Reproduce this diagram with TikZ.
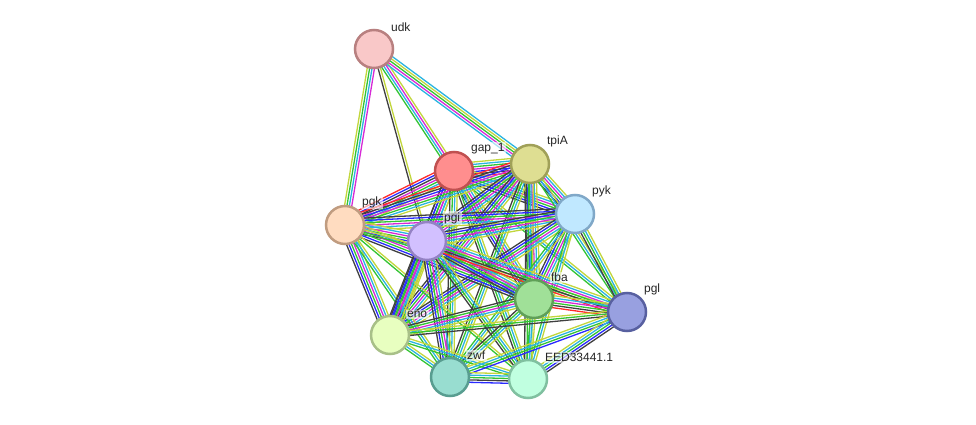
\documentclass[tikz,border=0pt]{standalone}
\usepackage{fontspec}
\setmainfont{Liberation Sans}
\usetikzlibrary{calc,backgrounds}

% edge colours
\definecolor{cgreen}{HTML}{33C433}
\definecolor{cred}{HTML}{FF2A2A}
\definecolor{cblue}{HTML}{2A2AFF}
\definecolor{cblack}{HTML}{404040}
\definecolor{cmag}{HTML}{D62AD6}
\definecolor{ccyan}{HTML}{2AB4E0}
\definecolor{cyel}{HTML}{C2D63C}

% one edge = several parallel coloured lines
\newcommand{\linkedge}[3]{%
  \foreach \c [count=\i] in {#3}{\xdef\ncol{\i}}%
  \foreach \c [count=\i] in {#3}{%
    \pgfmathsetmacro\off{(\i-1)*2.4-(\ncol-1)*1.2}%
    \draw[ev\c] ($(#1)!\off pt!90:(#2)$) -- ($(#2)!\off pt!-90:(#1)$);
  }%
}

\begin{document}
\begin{tikzpicture}[
    x=1pt, y=-1pt,
    % protein nodes
    prot/.style={circle, minimum size=38pt, inner sep=0pt, line width=2.5pt},
    lab/.style={font=\fontsize{12}{14}\selectfont, inner sep=1.5pt, text=black!85,
      fill=white, fill opacity=0.6, text opacity=1, label distance=1.5pt},
    % evidence channels
    evn/.style={draw=cgreen, line width=1.3pt},
    evf/.style={draw=cred, line width=1.3pt},
    evo/.style={draw=cblue, line width=1.3pt},
    evx/.style={draw=cblack, line width=1.3pt},
    eve/.style={draw=cmag, line width=1.3pt},
    evd/.style={draw=ccyan, line width=1.3pt},
    evt/.style={draw=cyel, line width=1.3pt},
  ]
  \useasboundingbox (0,0) rectangle (976,425);

  % proteins
  \node[prot, fill={rgb,255:red,249;green,200;blue,200}, draw={rgb,255:red,184;green,128;blue,128},
    label={[lab]45:udk}] (udk) at (374,49) {};
  \node[prot, fill={rgb,255:red,255;green,142;blue,142}, draw={rgb,255:red,192;green,80;blue,80},
    label={[lab]45:gap\_1}] (gap) at (454,171) {};
  \node[prot, fill={rgb,255:red,222;green,222;blue,146}, draw={rgb,255:red,160;green,160;blue,88},
    label={[lab]45:tpiA}] (tpiA) at (530,164) {};
  \node[prot, fill={rgb,255:red,192;green,232;blue,255}, draw={rgb,255:red,128;green,168;blue,200},
    label={[lab]45:pyk}] (pyk) at (575,214) {};
  \node[prot, fill={rgb,255:red,255;green,220;blue,192}, draw={rgb,255:red,192;green,156;blue,128},
    label={[lab]45:pgk}] (pgk) at (345,225) {};
  \node[prot, fill={rgb,255:red,210;green,192;blue,255}, draw={rgb,255:red,148;green,130;blue,196},
    label={[lab]45:pgi}] (pgi) at (427,241) {};
  \node[prot, fill={rgb,255:red,160;green,224;blue,152}, draw={rgb,255:red,96;green,160;blue,88},
    label={[lab]45:fba}] (fba) at (534,299) {};
  \node[prot, fill={rgb,255:red,152;green,160;blue,224}, draw={rgb,255:red,88;green,96;blue,160},
    label={[lab]45:pgl}] (pgl) at (627,312) {};
  \node[prot, fill={rgb,255:red,232;green,255;blue,192}, draw={rgb,255:red,168;green,192;blue,136},
    label={[lab]45:eno}] (eno) at (390,335) {};
  \node[prot, fill={rgb,255:red,152;green,221;blue,208}, draw={rgb,255:red,88;green,157;blue,144},
    label={[lab]45:zwf}] (zwf) at (450,377) {};
  \node[prot, fill={rgb,255:red,192;green,255;blue,224}, draw={rgb,255:red,128;green,192;blue,160},
    label={[lab]45:EED33441.1}] (eed) at (528,379) {};

  % interactions
  \begin{scope}[on background layer]
    \linkedge{udk}{pgk}{t,n,d,e}
    \linkedge{udk}{pgi}{x,t}
    \linkedge{udk}{gap}{n,d,e,t}
    \linkedge{udk}{tpiA}{d,e,n,t,d}
    \linkedge{gap}{tpiA}{f,x,o,e,n,d,t}
    \linkedge{gap}{pyk}{x,o,n,e,d,t}
    \linkedge{gap}{pgk}{f,o,x,e,n,d,t}
    \linkedge{gap}{pgi}{x,o,n,e,d,t}
    \linkedge{gap}{fba}{x,o,n,e,d,t}
    \linkedge{gap}{pgl}{n,d,t}
    \linkedge{gap}{eno}{x,o,n,e,d,t}
    \linkedge{gap}{zwf}{x,n,d,t}
    \linkedge{gap}{eed}{x,n,d,t}
    \linkedge{tpiA}{pyk}{x,o,n,e,d,t}
    \linkedge{tpiA}{pgk}{f,x,o,e,n,d,t}
    \linkedge{tpiA}{pgi}{x,o,n,e,d,t}
    \linkedge{tpiA}{fba}{x,o,n,e,d,t}
    \linkedge{tpiA}{pgl}{n,d,t}
    \linkedge{tpiA}{eno}{x,o,n,e,d,t}
    \linkedge{tpiA}{zwf}{x,n,d,t}
    \linkedge{tpiA}{eed}{x,n,d,t}
    \linkedge{pyk}{pgk}{x,o,n,e,d,t}
    \linkedge{pyk}{pgi}{x,o,n,e,d,t}
    \linkedge{pyk}{fba}{x,o,n,e,d,t}
    \linkedge{pyk}{pgl}{x,n,d,t}
    \linkedge{pyk}{eno}{x,o,n,e,d,t}
    \linkedge{pyk}{zwf}{n,d,t}
    \linkedge{pyk}{eed}{n,d,t}
    \linkedge{pgk}{pgi}{x,o,n,e,d,t}
    \linkedge{pgk}{fba}{x,o,n,e,d,t}
    \linkedge{pgk}{pgl}{n,t}
    \linkedge{pgk}{eno}{x,o,n,e,d,t}
    \linkedge{pgk}{zwf}{n,d,t}
    \linkedge{pgk}{eed}{n,t}
    \linkedge{pgi}{fba}{x,o,n,e,d,t}
    \linkedge{pgi}{pgl}{f,x,n,e,d,t}
    \linkedge{pgi}{eno}{x,o,n,e,d,t,t}
    \linkedge{pgi}{zwf}{x,o,n,e,d,t}
    \linkedge{pgi}{eed}{x,n,d,t}
    \linkedge{fba}{pgl}{f,x,n,e,d,t}
    \linkedge{fba}{eno}{x,n,e,d,t}
    \linkedge{fba}{zwf}{x,n,d,t}
    \linkedge{fba}{eed}{n,d,t}
    \linkedge{eno}{pgl}{x,n,t}
    \linkedge{eno}{zwf}{n,d,t}
    \linkedge{eno}{eed}{n,d,t}
    \linkedge{zwf}{pgl}{o,n,d,t}
    \linkedge{zwf}{eed}{o,x,n,d,t}
    \linkedge{eed}{pgl}{x,o,n,d,t}
  \end{scope}
\end{tikzpicture}
\end{document}
